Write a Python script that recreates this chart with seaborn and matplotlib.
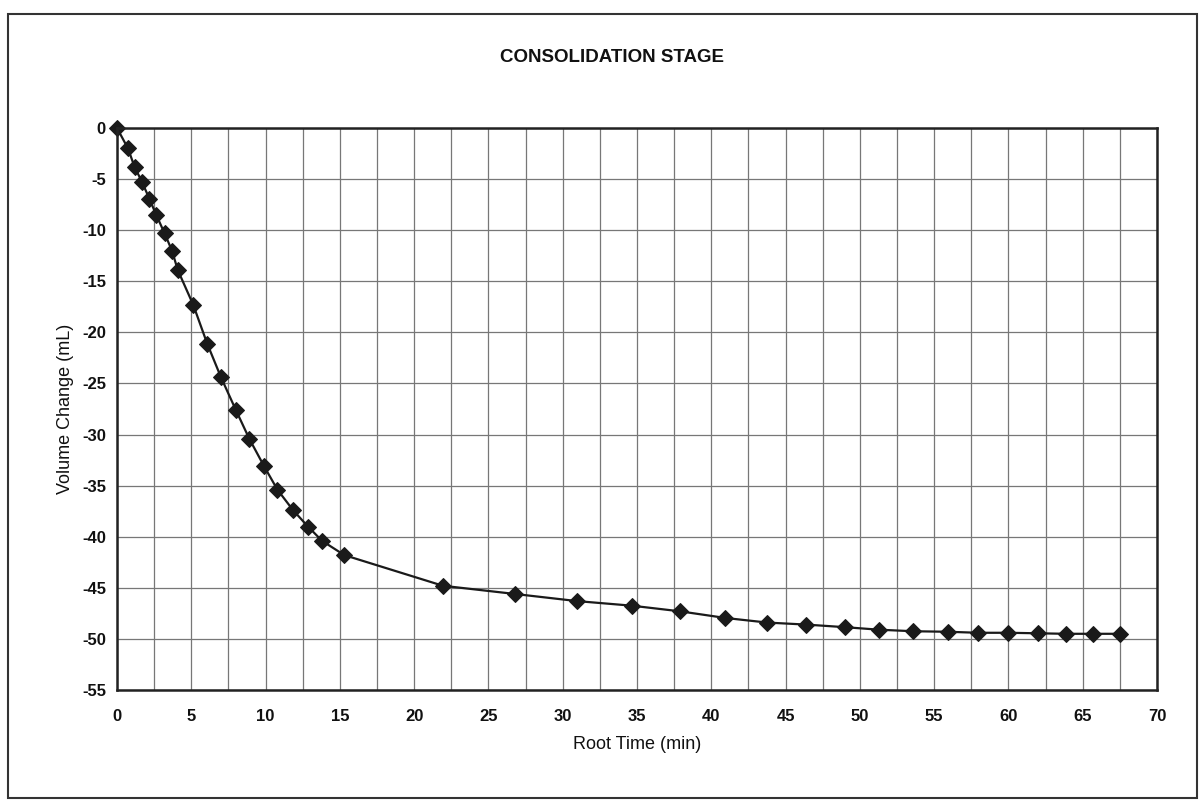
import numpy as np
import pandas as pd
import matplotlib
matplotlib.use("Agg")
import matplotlib.pyplot as plt
import seaborn as sns
from matplotlib.patches import Rectangle
from matplotlib.ticker import MultipleLocator

root_time = [0.0, 0.74, 1.18, 1.69, 2.17, 2.64, 3.2, 3.7, 4.09, 5.13, 6.07, 7.0, 8.0,
             8.9, 9.9, 10.8, 11.85, 12.85, 13.8, 15.3, 21.94, 26.77, 30.97, 34.66,
             37.9, 40.95, 43.76, 46.4, 48.98, 51.3, 53.6, 55.9, 57.95, 60.0, 61.96,
             63.85, 65.7, 67.5]
volume_change = [0.0, -2.0, -3.8, -5.3, -6.9, -8.5, -10.3, -12.0, -13.9, -17.3, -21.1,
                 -24.4, -27.6, -30.4, -33.1, -35.4, -37.4, -39.0, -40.4, -41.8, -44.8,
                 -45.6, -46.3, -46.75, -47.3, -47.95, -48.4, -48.6, -48.85, -49.1,
                 -49.25, -49.3, -49.4, -49.4, -49.45, -49.5, -49.5, -49.5]

x_ticks = list(range(0, 71, 5))
y_ticks = list(range(-55, 1, 5))

df = pd.DataFrame({"Root Time (min)": root_time, "Volume Change (mL)": volume_change})

sns.set_theme(style="white")
plt.rcParams['font.family'] = ['Liberation Sans', 'DejaVu Sans']
plt.rcParams['axes.unicode_minus'] = False

fig = plt.figure(figsize=(12, 8.02), dpi=100)
ax = fig.add_axes([117/1200, 1 - 690/802, (1157-117)/1200, (690-128)/802])

sns.lineplot(data=df, x="Root Time (min)", y="Volume Change (mL)", ax=ax,
             color="#1a1a1a", linewidth=1.6, marker="D", markersize=8.5,
             markerfacecolor="#1a1a1a", markeredgecolor="#1a1a1a", clip_on=False)

ax.set_xlim(0, 70)
ax.set_ylim(-55, 0)
ax.set_xticks(x_ticks)
ax.set_yticks(y_ticks)
ax.xaxis.set_minor_locator(MultipleLocator(2.5))
ax.grid(True, which="both", axis="x", color="#777777", linewidth=0.9)
ax.grid(True, which="major", axis="y", color="#777777", linewidth=0.9)
ax.set_axisbelow(True)
for s in ax.spines.values():
    s.set_color("#222222")
    s.set_linewidth(1.8)

ax.tick_params(axis="x", which="both", length=0, pad=14, labelsize=12, colors="#111111")
ax.tick_params(axis="y", which="major", length=4, pad=4, labelsize=12, colors="#111111")
for lab in ax.get_xticklabels() + ax.get_yticklabels():
    lab.set_fontweight("bold")

ax.set_xlabel("Root Time (min)", fontsize=13, color="#111111", labelpad=8)
ax.set_ylabel("Volume Change (mL)", fontsize=13, color="#111111", labelpad=6)
fig.text(612/1200, 1 - 57/802, "CONSOLIDATION STAGE", ha="center", va="center",
         fontsize=13.5, fontweight="bold", color="#111111")

fig.patches.append(Rectangle((8/1200, 1 - 798/802), (1197-8)/1200, (798-14)/802,
                             transform=fig.transFigure, fill=False,
                             edgecolor="#333333", linewidth=1.5))

fig.savefig("out.png", dpi=100, facecolor="white")
